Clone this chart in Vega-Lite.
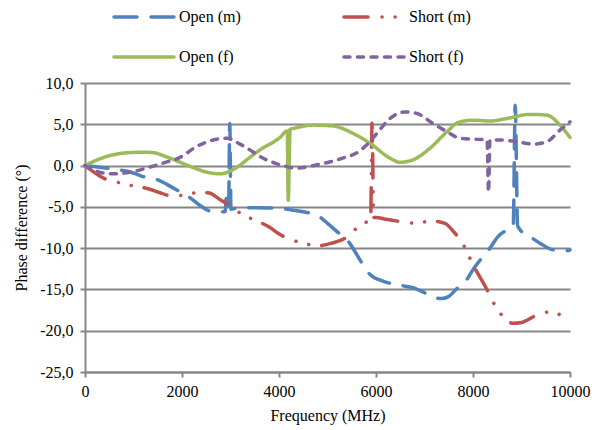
{
  "$schema": "https://vega.github.io/schema/vega-lite/v6.json",
  "width": 485,
  "height": 289,
  "autosize": "none",
  "padding": {"left": 85, "top": 83, "right": 31, "bottom": 58},
  "background": "white",
  "config": {
    "font": "Liberation Serif, Times New Roman, serif",
    "view": {"stroke": null},
    "axis": {"labelFont": "Liberation Serif, Times New Roman, serif", "titleFont": "Liberation Serif, Times New Roman, serif", "labelFontSize": 16, "titleFontSize": 16, "titleFontWeight": "normal", "labelColor": "#000000", "titleColor": "#000000", "domainColor": "#868686", "domainWidth": 2, "tickColor": "#868686", "tickWidth": 2, "tickSize": 5, "gridColor": "#868686", "gridWidth": 2},
    "legend": {"labelFont": "Liberation Serif, Times New Roman, serif", "labelFontSize": 16, "labelColor": "#000000", "padding": 0}
  },
  "data": {"values": [
    {"f":0,"v":0,"s":"Open (m)"},{"f":300,"v":-0.2,"s":"Open (m)"},{"f":680,"v":-0.5,"s":"Open (m)"},{"f":1000,"v":-0.9,"s":"Open (m)"},{"f":1175,"v":-1.3,"s":"Open (m)"},{"f":1485,"v":-1.7,"s":"Open (m)"},{"f":1814,"v":-2.7,"s":"Open (m)"},{"f":2165,"v":-3.9,"s":"Open (m)"},{"f":2412,"v":-5.0,"s":"Open (m)"},{"f":2577,"v":-5.5,"s":"Open (m)"},{"f":2845,"v":-5.6,"s":"Open (m)"},{"f":2890,"v":-5.6,"s":"Open (m)"},{"f":2910,"v":-4.0,"s":"Open (m)"},{"f":2930,"v":-5.6,"s":"Open (m)"},{"f":2960,"v":-5.5,"s":"Open (m)"},{"f":2985,"v":5.1,"s":"Open (m)"},{"f":3010,"v":-5.3,"s":"Open (m)"},{"f":3100,"v":-5.2,"s":"Open (m)"},{"f":3500,"v":-5.1,"s":"Open (m)"},{"f":4000,"v":-5.2,"s":"Open (m)"},{"f":4300,"v":-5.4,"s":"Open (m)"},{"f":4500,"v":-5.6,"s":"Open (m)"},{"f":4784,"v":-6.0,"s":"Open (m)"},{"f":5000,"v":-7.0,"s":"Open (m)"},{"f":5196,"v":-8.0,"s":"Open (m)"},{"f":5402,"v":-9.0,"s":"Open (m)"},{"f":5711,"v":-11.8,"s":"Open (m)"},{"f":5876,"v":-13.2,"s":"Open (m)"},{"f":6100,"v":-13.9,"s":"Open (m)"},{"f":6495,"v":-14.5,"s":"Open (m)"},{"f":6763,"v":-14.8,"s":"Open (m)"},{"f":7000,"v":-15.4,"s":"Open (m)"},{"f":7216,"v":-16.0,"s":"Open (m)"},{"f":7350,"v":-16.1,"s":"Open (m)"},{"f":7485,"v":-15.9,"s":"Open (m)"},{"f":7650,"v":-15.0,"s":"Open (m)"},{"f":7897,"v":-13.6,"s":"Open (m)"},{"f":8000,"v":-12.6,"s":"Open (m)"},{"f":8350,"v":-10.0,"s":"Open (m)"},{"f":8515,"v":-8.6,"s":"Open (m)"},{"f":8763,"v":-7.6,"s":"Open (m)"},{"f":8830,"v":-7.3,"s":"Open (m)"},{"f":8870,"v":7.3,"s":"Open (m)"},{"f":8920,"v":-7.3,"s":"Open (m)"},{"f":8960,"v":-7.7,"s":"Open (m)"},{"f":9175,"v":-8.6,"s":"Open (m)"},{"f":9381,"v":-9.4,"s":"Open (m)"},{"f":9649,"v":-10.2,"s":"Open (m)"},{"f":9938,"v":-10.3,"s":"Open (m)"},{"f":10000,"v":-10.2,"s":"Open (m)"},

    {"f":0,"v":0,"s":"Short (m)"},{"f":450,"v":-1.7,"s":"Short (m)"},{"f":720,"v":-2.1,"s":"Short (m)"},{"f":1030,"v":-2.5,"s":"Short (m)"},{"f":1300,"v":-2.8,"s":"Short (m)"},{"f":1600,"v":-3.4,"s":"Short (m)"},{"f":1790,"v":-3.7,"s":"Short (m)"},{"f":2000,"v":-3.6,"s":"Short (m)"},{"f":2300,"v":-3.3,"s":"Short (m)"},{"f":2536,"v":-3.3,"s":"Short (m)"},{"f":2780,"v":-4.1,"s":"Short (m)"},{"f":3050,"v":-5.1,"s":"Short (m)"},{"f":3260,"v":-6.0,"s":"Short (m)"},{"f":3500,"v":-6.6,"s":"Short (m)"},{"f":3814,"v":-7.5,"s":"Short (m)"},{"f":3980,"v":-8.2,"s":"Short (m)"},{"f":4495,"v":-9.4,"s":"Short (m)"},{"f":4800,"v":-9.7,"s":"Short (m)"},{"f":5090,"v":-9.4,"s":"Short (m)"},{"f":5360,"v":-8.8,"s":"Short (m)"},{"f":5600,"v":-7.6,"s":"Short (m)"},{"f":5814,"v":-6.8,"s":"Short (m)"},{"f":5890,"v":-6.5,"s":"Short (m)"},{"f":5920,"v":5.7,"s":"Short (m)"},{"f":5950,"v":-6.3,"s":"Short (m)"},{"f":6000,"v":-6.3,"s":"Short (m)"},{"f":6200,"v":-6.5,"s":"Short (m)"},{"f":6536,"v":-6.8,"s":"Short (m)"},{"f":6825,"v":-7.0,"s":"Short (m)"},{"f":7134,"v":-6.7,"s":"Short (m)"},{"f":7423,"v":-7.0,"s":"Short (m)"},{"f":7600,"v":-8.0,"s":"Short (m)"},{"f":7794,"v":-9.5,"s":"Short (m)"},{"f":7918,"v":-11.0,"s":"Short (m)"},{"f":8000,"v":-12.0,"s":"Short (m)"},{"f":8268,"v":-14.8,"s":"Short (m)"},{"f":8412,"v":-16.5,"s":"Short (m)"},{"f":8577,"v":-18.0,"s":"Short (m)"},{"f":8825,"v":-19.1,"s":"Short (m)"},{"f":9000,"v":-19.0,"s":"Short (m)"},{"f":9320,"v":-18.1,"s":"Short (m)"},{"f":9629,"v":-17.7,"s":"Short (m)"},{"f":9897,"v":-18.4,"s":"Short (m)"},{"f":10000,"v":-18.6,"s":"Short (m)"},

    {"f":0,"v":0,"s":"Open (f)"},{"f":300,"v":0.8,"s":"Open (f)"},{"f":580,"v":1.3,"s":"Open (f)"},{"f":1070,"v":1.6,"s":"Open (f)"},{"f":1340,"v":1.6,"s":"Open (f)"},{"f":1750,"v":0.9,"s":"Open (f)"},{"f":2165,"v":-0.1,"s":"Open (f)"},{"f":2515,"v":-0.8,"s":"Open (f)"},{"f":2784,"v":-1.0,"s":"Open (f)"},{"f":3134,"v":-0.2,"s":"Open (f)"},{"f":3400,"v":1.0,"s":"Open (f)"},{"f":3608,"v":1.9,"s":"Open (f)"},{"f":4020,"v":3.4,"s":"Open (f)"},{"f":4170,"v":4.2,"s":"Open (f)"},{"f":4190,"v":-4.2,"s":"Open (f)"},{"f":4230,"v":4.4,"s":"Open (f)"},{"f":4300,"v":4.5,"s":"Open (f)"},{"f":4700,"v":4.9,"s":"Open (f)"},{"f":5110,"v":4.8,"s":"Open (f)"},{"f":5525,"v":3.9,"s":"Open (f)"},{"f":5876,"v":2.7,"s":"Open (f)"},{"f":6289,"v":0.9,"s":"Open (f)"},{"f":6495,"v":0.4,"s":"Open (f)"},{"f":6763,"v":0.7,"s":"Open (f)"},{"f":7113,"v":2.1,"s":"Open (f)"},{"f":7464,"v":4.1,"s":"Open (f)"},{"f":7690,"v":5.2,"s":"Open (f)"},{"f":8000,"v":5.5,"s":"Open (f)"},{"f":8350,"v":5.4,"s":"Open (f)"},{"f":8700,"v":5.7,"s":"Open (f)"},{"f":9175,"v":6.2,"s":"Open (f)"},{"f":9526,"v":6.1,"s":"Open (f)"},{"f":9794,"v":4.9,"s":"Open (f)"},{"f":10000,"v":3.4,"s":"Open (f)"},

    {"f":0,"v":0,"s":"Short (f)"},{"f":300,"v":-0.8,"s":"Short (f)"},{"f":580,"v":-1.0,"s":"Short (f)"},{"f":930,"v":-0.8,"s":"Short (f)"},{"f":1270,"v":-0.3,"s":"Short (f)"},{"f":1610,"v":0.3,"s":"Short (f)"},{"f":1960,"v":1.0,"s":"Short (f)"},{"f":2300,"v":2.3,"s":"Short (f)"},{"f":2640,"v":3.1,"s":"Short (f)"},{"f":2928,"v":3.3,"s":"Short (f)"},{"f":3196,"v":2.6,"s":"Short (f)"},{"f":3400,"v":1.9,"s":"Short (f)"},{"f":3608,"v":1.1,"s":"Short (f)"},{"f":4020,"v":0.1,"s":"Short (f)"},{"f":4370,"v":-0.3,"s":"Short (f)"},{"f":4784,"v":0.1,"s":"Short (f)"},{"f":5258,"v":0.8,"s":"Short (f)"},{"f":5670,"v":1.8,"s":"Short (f)"},{"f":5876,"v":2.9,"s":"Short (f)"},{"f":6020,"v":3.9,"s":"Short (f)"},{"f":6289,"v":5.7,"s":"Short (f)"},{"f":6598,"v":6.5,"s":"Short (f)"},{"f":6845,"v":6.3,"s":"Short (f)"},{"f":7175,"v":5.1,"s":"Short (f)"},{"f":7464,"v":4.1,"s":"Short (f)"},{"f":7732,"v":3.3,"s":"Short (f)"},{"f":8000,"v":3.2,"s":"Short (f)"},{"f":8290,"v":3.1,"s":"Short (f)"},{"f":8320,"v":-3.2,"s":"Short (f)"},{"f":8350,"v":3.1,"s":"Short (f)"},{"f":8557,"v":3.1,"s":"Short (f)"},{"f":8907,"v":2.9,"s":"Short (f)"},{"f":9237,"v":2.6,"s":"Short (f)"},{"f":9526,"v":2.9,"s":"Short (f)"},{"f":9794,"v":4.3,"s":"Short (f)"},{"f":10000,"v":5.3,"s":"Short (f)"}
  ]},
  "mark": {"type": "line", "interpolate": "monotone", "strokeWidth": 3.5, "strokeCap": "round", "strokeJoin": "round"},
  "encoding": {
    "x": {"field": "f", "type": "quantitative", "title": "Frequency (MHz)",
      "scale": {"domain": [0, 10000], "nice": false},
      "axis": {"values": [0, 2000, 4000, 6000, 8000, 10000], "format": "d", "grid": false, "labelPadding": 6, "titlePadding": 8, "labelFlush": false}},
    "y": {"field": "v", "type": "quantitative", "title": "Phase difference (°)",
      "scale": {"domain": [-25, 10], "nice": false, "zero": false},
      "axis": {"values": [-25, -20, -15, -10, -5, 0, 5, 10], "grid": true, "labelPadding": 7, "titlePadding": 10, "labelFlush": false,
        "labelExpr": "(datum.value < 0 ? '-' : '') + replace(format(abs(datum.value), '.1f'), '.', ',')"}},
    "color": {"field": "s", "type": "nominal", "title": null,
      "scale": {"domain": ["Open (m)", "Open (f)", "Short (m)", "Short (f)"], "range": ["#4F81BD", "#9BBB59", "#C0504D", "#8064A2"]},
      "legend": {"orient": "none", "legendX": 27, "legendY": -76, "columns": 2, "columnPadding": 101, "rowPadding": 20, "clipHeight": 20, "symbolType": "stroke", "symbolSize": 3600, "symbolStrokeWidth": 3.5, "labelOffset": 3,
        "encode": {"symbols": {"update": {"strokeCap": {"value": "round"}}}}}},
    "strokeDash": {"field": "s", "type": "nominal", "title": null,
      "scale": {"domain": ["Open (m)", "Open (f)", "Short (m)", "Short (f)"], "range": [[23, 14], [1, 0], [24, 14, 0.1, 13, 0.1, 13], [6, 7.5]]}}
  }
}
